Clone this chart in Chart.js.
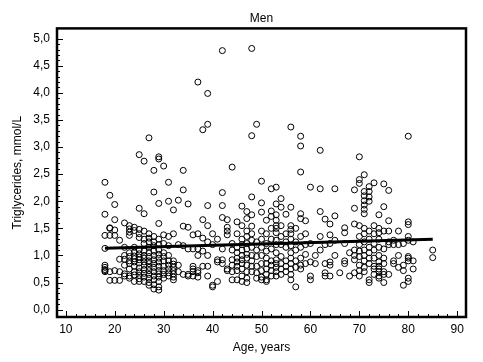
<!DOCTYPE html>
<html>
<head>
<meta charset="utf-8">
<script src="https://cdn.jsdelivr.net/npm/chart.js@4.4.1/dist/chart.umd.min.js"></script>
<style>
  html, body { margin: 0; padding: 0; background: #fff; }
</style>
</head>
<body>
<canvas id="chart" width="483" height="362"></canvas>
<script>
// age (years) of each column of points
const ages = [18,19,20,21,22,23,24,25,26,27,28,29,30,31,32,33,34,35,36,37,38,39,40,41,42,43,44,45,46,47,48,49,
  50,51,52,53,54,55,56,57,58,59,60,61,62,63,64,65,66,67,68,69,70,71,72,73,74,75,76,77,78,79,80,81,85];

// triglycerides (mmol/L), one list per age above
const trigByAge = [
  [2.35,1.76,1.37,1.13,0.82,0.78,0.74,0.72,0.70],
  [2.11,1.51,1.50,1.37,0.70,0.54],
  [1.94,1.66,1.47,1.37,0.72,0.54],
  [1.28,0.93,0.70,0.54],
  [1.60,1.15,1.00,0.93,0.82,0.66,0.62],
  [1.55,1.49,1.43,1.37,1.05,0.98,0.90,0.85,0.75,0.62,0.58],
  [1.52,1.46,1.15,1.06,0.99,0.94,0.88,0.80,0.70,0.64,0.52],
  [2.86,1.87,1.48,1.40,1.33,1.10,1.03,0.97,0.92,0.86,0.77,0.70,0.63,0.57,0.52],
  [2.74,1.77,1.45,1.30,1.22,1.08,1.00,0.95,0.88,0.82,0.74,0.67,0.60,0.52],
  [3.17,1.40,1.32,1.25,1.15,1.05,0.98,0.90,0.85,0.78,0.72,0.65,0.58,0.50,0.45],
  [2.57,2.17,1.35,1.25,1.18,1.08,1.00,0.92,0.85,0.78,0.70,0.62,0.55,0.46,0.38],
  [2.82,2.78,1.96,1.59,1.30,1.20,1.10,1.02,0.95,0.88,0.80,0.72,0.66,0.60,0.52,0.42,0.36],
  [2.65,1.38,1.22,1.05,0.98,0.90,0.80,0.72,0.65,0.58],
  [2.35,2.00,1.35,1.18,1.00,0.90,0.82,0.75,0.68,0.62],
  [1.84,1.40,0.90,0.84,0.78,0.72,0.66,0.60,0.55],
  [2.02,1.20,0.82,0.70],
  [2.57,2.21,1.54,1.18,0.65],
  [1.95,1.52,1.12,0.65,0.62],
  [1.38,1.12,0.80,0.75,0.70,0.62],
  [4.20,1.40,1.12,1.00,0.72,0.68,0.60],
  [3.32,1.66,1.32,1.08,0.80],
  [3.99,3.42,1.92,1.55,1.25,1.00,0.80,0.62],
  [1.40,1.20,0.45,0.42],
  [1.30,0.92,0.88,0.52],
  [4.78,2.16,1.92,1.70,1.12,0.92,0.85],
  [1.66,1.52,1.45,1.38,0.75,0.72],
  [2.63,1.22,1.10,0.92,0.82,0.70,0.55],
  [1.62,1.40,1.15,1.05,0.95,0.88,0.80,0.72,0.55],
  [1.91,1.55,1.30,1.20,1.10,1.00,0.92,0.85,0.75,0.62,0.52],
  [1.81,1.68,1.45,1.35,1.22,1.12,1.02,0.95,0.82,0.70,0.58,0.50],
  [4.82,3.21,2.08,1.75,1.54,1.40,1.28,1.15,1.00,0.90,0.80,0.70],
  [3.42,1.25,1.10,0.98,0.80,0.68,0.58],
  [2.37,1.97,1.80,1.45,1.30,1.15,1.00,0.85,0.72,0.60,0.55],
  [1.65,1.40,1.22,1.08,0.95,0.85,0.75,0.65,0.55,0.52],
  [2.23,1.82,1.72,1.50,1.30,1.12,0.90,0.82,0.72,0.62],
  [2.26,1.95,1.75,1.65,1.55,1.50,1.42,1.28,1.20,1.05,0.92,0.85,0.78,0.70,0.62],
  [2.05,1.89,1.55,1.35,1.20,0.98,0.85,0.75,0.65],
  [1.76,1.40,1.25,1.15,0.90,0.80,0.70],
  [3.37,1.89,1.55,1.48,1.40,1.30,1.18,1.05,0.95,0.85,0.75,0.65,0.55],
  [1.50,1.25,1.10,0.90,0.78,0.42],
  [3.20,3.02,2.54,1.77,1.68,1.35,1.15,0.95,0.82,0.75],
  [1.64,1.40,1.20,1.02,0.85],
  [2.26,1.22,0.88,0.62,0.55],
  [1.00,0.85],
  [2.94,2.23,1.81,1.35,1.10],
  [1.67,1.20,0.85,0.68,0.62],
  [1.58,1.38,1.22,0.88,0.82,0.62],
  [2.23,1.73,1.28,1.00],
  [0.68],
  [1.51,1.42,1.22,0.90,0.85],
  [1.05,0.62],
  [2.21,1.87,1.58,1.10,1.00,0.92,0.68],
  [2.82,2.40,2.33,1.55,1.35,1.20,1.08,0.98,0.82,0.72,0.62],
  [2.49,2.18,2.10,2.01,1.93,1.85,1.77,1.50,1.40,1.25,1.10,1.00,0.90,0.78,0.70],
  [2.27,2.18,2.08,2.00,1.45,1.30,1.15,1.05,0.95,0.85,0.55,0.50],
  [2.34,1.55,1.40,1.22,1.10,0.95,0.80,0.75,0.65],
  [1.75,1.50,1.42,1.30,1.15,1.00,0.88,0.80,0.75,0.70,0.62,0.58],
  [2.32,1.90,1.45,1.12,0.95,0.85,0.70,0.65,0.50],
  [2.20,1.64,1.45,1.25,1.20,0.65],
  [1.28,1.20,0.90,0.85],
  [1.45,1.20,1.00,0.78],
  [1.22,0.82,0.72,0.45],
  [3.20,1.62,1.57,1.35,1.28,0.98,0.95,0.90,0.58,0.52],
  [1.25,0.90,0.75],
  [1.10,0.96]
];

// regression line ends
const fitAges = [18, 85];
const fitTrig = [1.135, 1.30];

const xTicks = [10, 20, 30, 40, 50, 60, 70, 80, 90];
const yTicks = [0, 0.5, 1, 1.5, 2, 2.5, 3, 3.5, 4, 4.5, 5];

const points = [];
ages.forEach((a, i) => trigByAge[i].forEach(v => points.push({ x: a, y: v })));
const fitLine = fitAges.map((a, i) => ({ x: a, y: fitTrig[i] }));

const FONT = { family: "'Liberation Sans', Arial, sans-serif", size: 12, weight: 'normal' };

// frame around the plot plus inward tick marks
const frameTicks = {
  id: 'frameTicks',
  afterDraw(chart) {
    const { ctx, chartArea: a, scales: { x, y } } = chart;
    ctx.save();
    ctx.strokeStyle = '#000';
    ctx.lineWidth = 1;
    ctx.beginPath();
    for (let v = 10; v <= 90; v += 2) {
      const px = Math.round(x.getPixelForValue(v)) + 0.5;
      const len = v % 10 === 0 ? 6 : 3;
      ctx.moveTo(px, a.bottom);
      ctx.lineTo(px, a.bottom - len);
    }
    for (let k = 0; k <= 50; k++) {
      const py = Math.round(y.getPixelForValue(k / 10)) + 0.5;
      const len = k % 5 === 0 ? 6 : 3;
      ctx.moveTo(a.left, py);
      ctx.lineTo(a.left + len, py);
    }
    ctx.stroke();
    ctx.lineWidth = 2.5;
    ctx.strokeRect(a.left, a.top, a.right - a.left, a.bottom - a.top);
    ctx.restore();
  }
};

new Chart(document.getElementById('chart'), {
  type: 'scatter',
  data: {
    datasets: [
      {
        type: 'line',
        data: fitLine,
        borderColor: '#000',
        borderWidth: 3,
        pointRadius: 0,
        fill: false
      },
      {
        data: points,
        pointStyle: 'circle',
        pointRadius: 3,
        borderWidth: 1,
        borderColor: '#000',
        backgroundColor: 'rgba(0,0,0,0)'
      }
    ]
  },
  options: {
    responsive: false,
    animation: false,
    layout: { padding: { top: 0, right: 17, bottom: 0, left: 0 } },
    plugins: {
      legend: { display: false },
      tooltip: { enabled: false },
      title: {
        display: true,
        text: 'Men',
        fullSize: false,
        color: '#000',
        font: FONT,
        padding: { top: 11, bottom: 3 }
      }
    },
    scales: {
      x: {
        type: 'linear',
        min: 8.2,
        max: 91.8,
        afterBuildTicks: s => { s.ticks = xTicks.map(v => ({ value: v })); },
        afterFit: s => { s.height = 45; },
        grid: { display: false, drawTicks: false },
        border: { display: false },
        ticks: { color: '#000', font: FONT, padding: 5, autoSkip: false, maxRotation: 0 },
        title: { display: true, text: 'Age, years', color: '#000', font: FONT, padding: { top: 0, bottom: 7 } }
      },
      y: {
        type: 'linear',
        min: -0.136,
        max: 5.19,
        afterBuildTicks: s => { s.ticks = yTicks.map(v => ({ value: v })); },
        afterFit: s => { s.width = 57; },
        grid: { display: false, drawTicks: false },
        border: { display: false },
        ticks: { color: '#000', font: FONT, padding: 7, callback: v => v.toFixed(1).replace('.', ',') },
        title: { display: true, text: 'Triglycerides, mmol/L', color: '#000', font: FONT, padding: { top: 10, bottom: 0 } }
      }
    }
  },
  plugins: [frameTicks]
});
</script>
</body>
</html>
